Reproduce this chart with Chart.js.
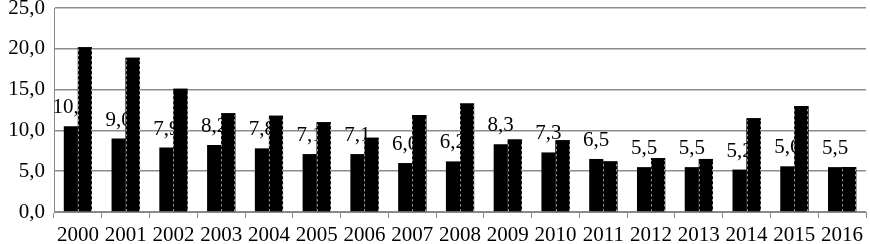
<!DOCTYPE html>
<html><head><meta charset="utf-8">
<script src="https://cdn.jsdelivr.net/npm/chart.js@4/dist/chart.umd.min.js"></script>
<style>html,body{margin:0;padding:0;background:#fff}#wrap{width:870px;height:244px}</style>
</head><body><div id="wrap"><canvas id="c" width="870" height="244"></canvas></div>
<script>
const years = ['2000','2001','2002','2003','2004','2005','2006','2007','2008','2009','2010','2011','2012','2013','2014','2015','2016'];
const seriesA = [10.5,9.0,7.9,8.2,7.8,7.1,7.1,6.0,6.2,8.3,7.3,6.5,5.5,5.5,5.2,5.6,5.5];
const seriesB = [20.2,18.9,15.1,12.1,11.8,11.0,9.1,11.9,13.3,8.9,8.8,6.2,6.6,6.5,11.5,13.0,5.5];
const yTicks = [0,5,10,15,20,25];

const fmt = v => v.toFixed(1).replace('.', ',');
const serif = '"Liberation Serif", "Times New Roman", serif';

const labelPlugin = {
  id: 'labels',
  afterDatasetsDraw(chart) {
    const ctx = chart.ctx;
    const metaA = chart.getDatasetMeta(0);
    const metaB = chart.getDatasetMeta(1);
    ctx.save();
    ctx.font = '21px ' + serif;
    ctx.fillStyle = '#000';
    ctx.textAlign = 'center';
    ctx.textBaseline = 'alphabetic';
    metaA.data.forEach((el, i) => {
      ctx.fillText(fmt(seriesA[i]), el.x, el.y - 13);
    });
    ctx.restore();
    // second series drawn over the labels
    metaB.data.forEach(el => el.draw(ctx));
    ctx.save();
    ctx.strokeStyle = 'rgba(190,190,190,0.9)';
    ctx.lineWidth = 1;
    ctx.setLineDash([2, 3]);
    metaB.data.forEach(el => {
      const l = Math.round(el.x - el.width / 2) + 0.5;
      const r = Math.round(el.x + el.width / 2) - 0.5;
      ctx.beginPath();
      ctx.moveTo(l, el.base);
      ctx.lineTo(l, el.y + 2);
      ctx.moveTo(r, el.base);
      ctx.lineTo(r, el.y + 2);
      ctx.stroke();
    });
    ctx.restore();
  }
};

new Chart(document.getElementById('c'), {
  type: 'bar',
  data: {
    labels: years,
    datasets: [
      { data: seriesA, backgroundColor: '#000', categoryPercentage: 0.59, barPercentage: 1.0 },
      { data: seriesB, backgroundColor: '#000', categoryPercentage: 0.59, barPercentage: 1.0 }
    ]
  },
  options: {
    responsive: false,
    animation: false,
    layout: { padding: { top: 8, right: 4, left: 0, bottom: 0 } },
    plugins: { legend: { display: false }, tooltip: { enabled: false } },
    scales: {
      x: {
        grid: { offset: true, drawOnChartArea: false, color: '#888', tickLength: 6 },
        border: { color: '#888' },
        ticks: { color: '#000', font: { family: serif, size: 21 }, padding: 5, maxRotation: 0, autoSkip: false },
        afterFit(s) { s.height = 32; s.paddingLeft = 0; s.paddingRight = 0; }
      },
      y: {
        min: 0, max: 25,
        afterBuildTicks(s) { s.ticks = yTicks.map(v => ({ value: v })); },
        grid: { color: '#8c8c8c', lineWidth: 1.5, drawTicks: false },
        border: { color: '#888' },
        ticks: { color: '#000', font: { family: serif, size: 21 }, padding: 9, callback: v => fmt(v) },
        afterFit(s) { s.width = 54; s.paddingTop = 0; s.paddingBottom = 0; }
      }
    }
  },
  plugins: [labelPlugin]
});
</script>
</body></html>
